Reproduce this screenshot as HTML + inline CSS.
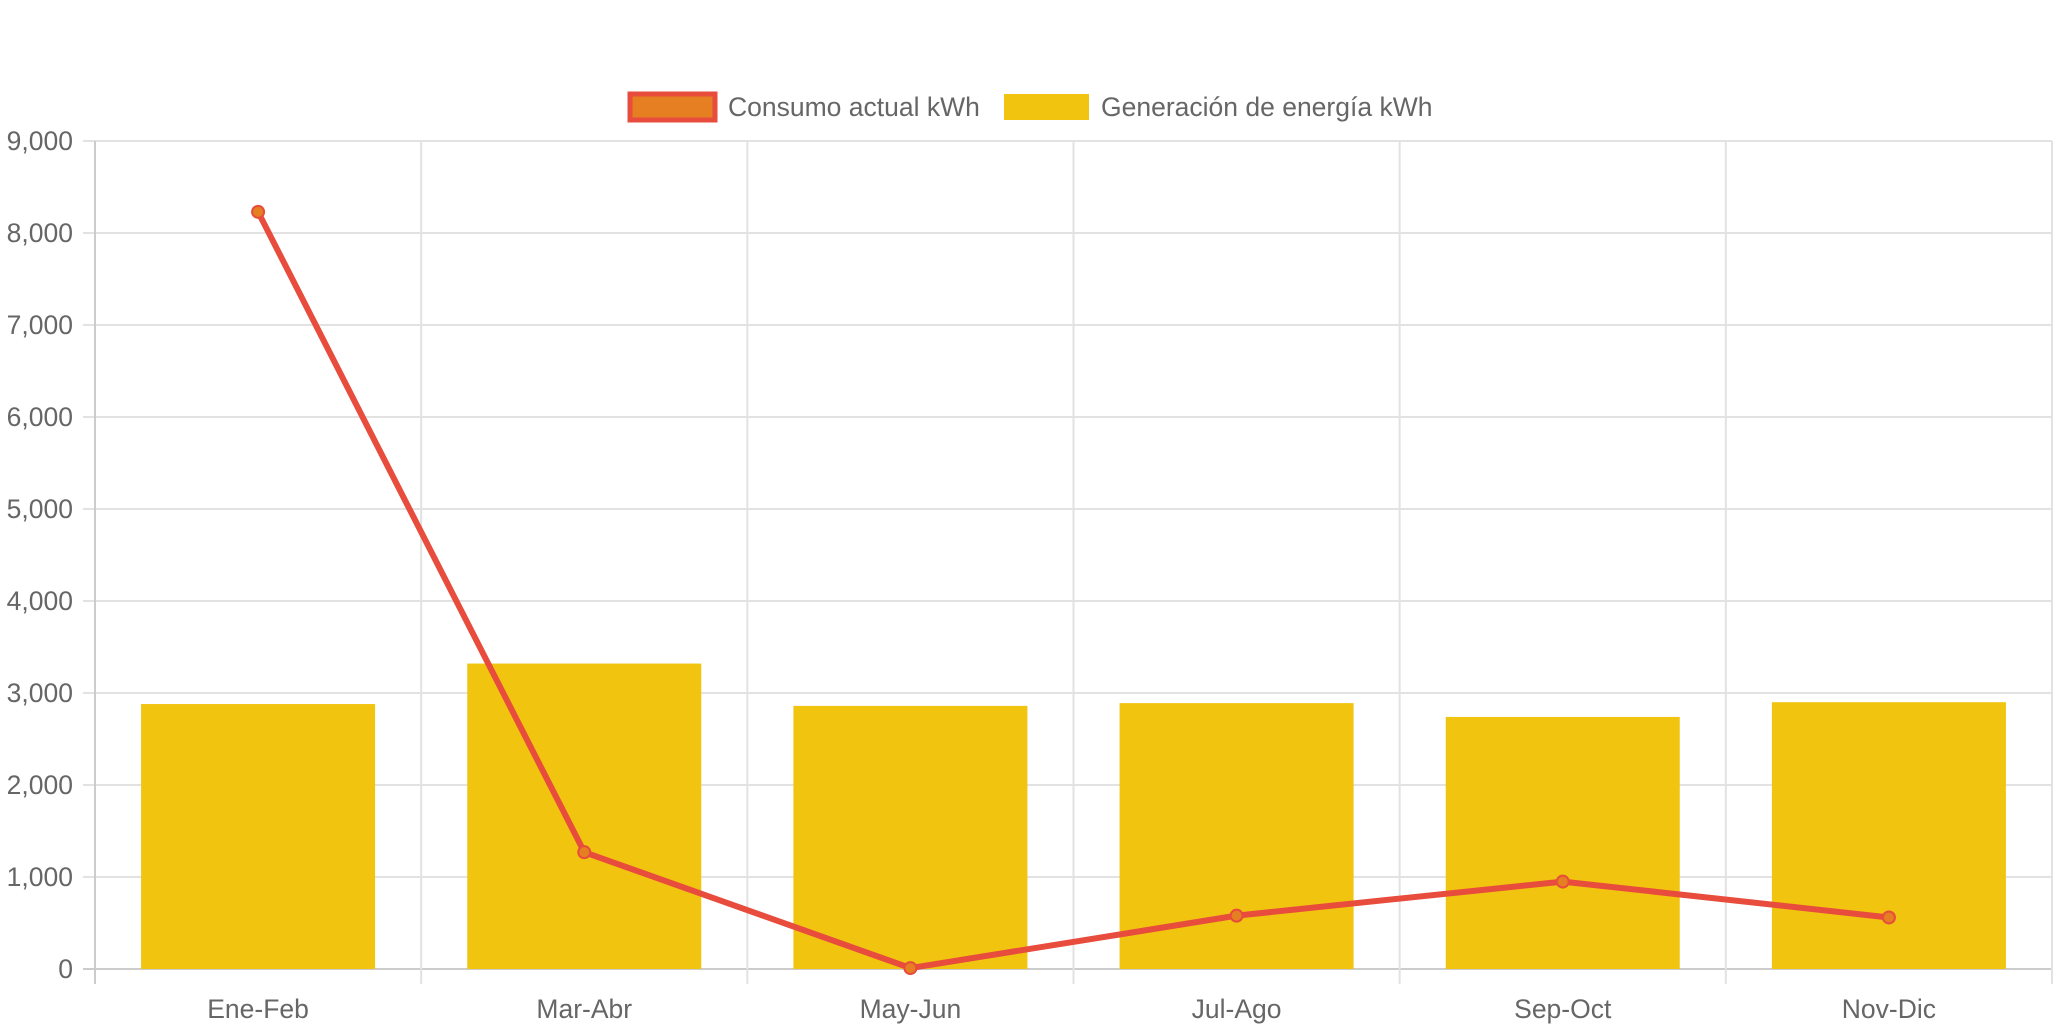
<!DOCTYPE html>
<html><head><meta charset="utf-8"><style>
body{margin:0;background:#fff;width:2063px;height:1030px;overflow:hidden}
svg text{font-family:"Liberation Sans",sans-serif;fill:#666}
</style></head><body>
<svg id="chart" width="2063" height="1030" xmlns="http://www.w3.org/2000/svg">
<g>
<g>
<rect x="630" y="94" width="85" height="26" fill="#e67e22" stroke="#e74c3c" stroke-width="5"/>
<text x="728" y="116" font-size="26.5">Consumo actual kWh</text></g>
<g>
<rect x="1004" y="94" width="85" height="26" fill="#f1c40f"/>
<text x="1101" y="116" font-size="26.5">Generación de energía kWh</text></g>
</g>
<g id="grid"></g><g id="bars"></g><g id="line"></g><g id="labels"></g>
</svg>
<script>
const categories=["Ene-Feb","Mar-Abr","May-Jun","Jul-Ago","Sep-Oct","Nov-Dic"];
const generacion=[2880,3320,2860,2890,2740,2900];
const consumo=[8230,1270,10,580,950,560];
const yTicks=[0,1000,2000,3000,4000,5000,6000,7000,8000,9000];
const NS="http://www.w3.org/2000/svg";
const X0=95,X1=2052,Y0=969,Y1=141,YMAX=9000;
const cw=(X1-X0)/categories.length;
function y(v){return Y0-(v/YMAX)*(Y0-Y1);}
function xc(i){return X0+cw*(i+0.5);}
function mk(t,a,p){const e=document.createElementNS(NS,t);for(const k in a)e.setAttribute(k,a[k]);p.appendChild(e);return e;}
const g=document.getElementById('grid'),b=document.getElementById('bars'),l=document.getElementById('line'),lb=document.getElementById('labels');
yTicks.forEach(v=>{
 const ln=mk('line',{x1:83,x2:X1,y1:y(v),y2:y(v),stroke:v===0?'#ccc':'#e2e2e2','stroke-width':2},g);
 
 
 const t=mk('text',{x:73,y:y(v)+9,'text-anchor':'end','font-size':26.5},lb);
 t.textContent=v.toLocaleString('en-US');
 
 
});
for(let i=0;i<=categories.length;i++){
 const x=X0+cw*i;
 const ln=mk('line',{x1:x,x2:x,y1:Y1,y2:984,stroke:i===0?'#ccc':'#e2e2e2','stroke-width':2},g);
 
 
}
const bw=234;
categories.forEach((c,i)=>{
 const r=mk('rect',{x:xc(i)-bw/2,y:y(generacion[i]),width:bw,height:Y0-y(generacion[i]),fill:'#f1c40f'},b);
 
 
 const t=mk('text',{x:xc(i),y:1018,'text-anchor':'middle','font-size':26.5},lb);
 t.textContent=c;
 
 
});
const pts=consumo.map((v,i)=>xc(i)+','+y(v)).join(' ');
const pl=mk('polyline',{points:pts,fill:'none',stroke:'#e74c3c','stroke-width':6,'stroke-linejoin':'round'},l);


consumo.forEach((v,i)=>{
 const c=mk('circle',{cx:xc(i),cy:y(v),r:6,fill:'#e67e22',stroke:'#e74c3c','stroke-width':2},l);
 
 
});
</script>
</body></html>
